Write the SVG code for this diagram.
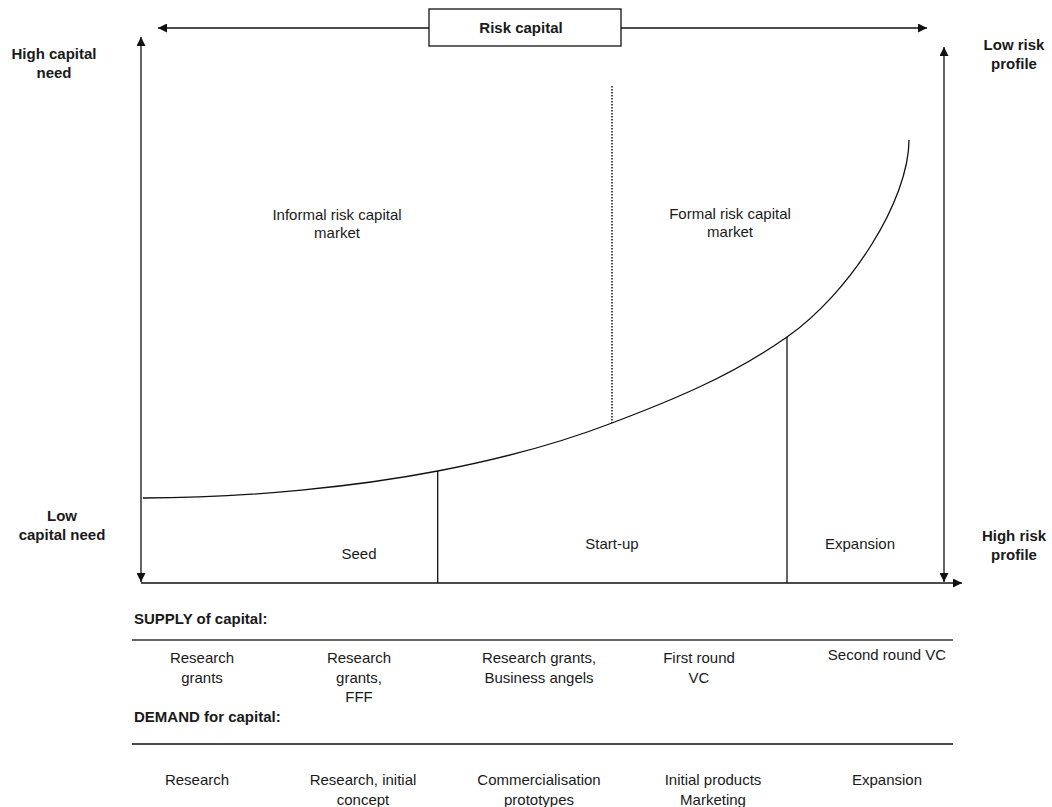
<svg xmlns="http://www.w3.org/2000/svg" width="1052" height="807" viewBox="0 0 1052 807">
<style>
text{font-family:"Liberation Sans",Arial,sans-serif;font-size:15px;fill:#1a1a1a;text-anchor:middle}
.b{font-weight:bold}
.l{text-anchor:start}
.ax{stroke:#111;stroke-width:1.3;fill:none}
</style>
<defs>
<marker id="ah" viewBox="0 0 10 10" refX="10" refY="5" markerWidth="9" markerHeight="9" markerUnits="userSpaceOnUse" orient="auto-start-reverse">
<path d="M0,0 L10,5 L0,10 z" fill="#111"/>
</marker>
</defs>
<rect width="1052" height="807" fill="#fff"/>
<g id="connectors">
<line class="ax" x1="429" y1="28" x2="158" y2="28" marker-end="url(#ah)"/>
<line class="ax" x1="621" y1="28" x2="927" y2="28" marker-end="url(#ah)"/>
<line class="ax" x1="141" y1="37" x2="141" y2="582" marker-start="url(#ah)" marker-end="url(#ah)"/>
<line class="ax" x1="944" y1="47" x2="944" y2="582" marker-start="url(#ah)" marker-end="url(#ah)"/>
<line class="ax" x1="141" y1="583" x2="962" y2="583" marker-end="url(#ah)"/>
<path class="ax" d="M143,498 C250,498 360,486 437.7,471 C495,460 555,445 612,423 C670,401 730,377 787,337 C850,293 909,200 909,140"/>
<line class="ax" x1="437.7" y1="471" x2="437.7" y2="583"/>
<line class="ax" x1="787" y1="337" x2="787" y2="583"/>
<line x1="612" y1="86" x2="612" y2="423" stroke="#111" stroke-width="1.5" stroke-dasharray="1.5,1.5"/>
<line x1="132" y1="640" x2="953" y2="640" stroke="#666" stroke-width="2"/>
<line x1="132" y1="744" x2="953" y2="744" stroke="#111" stroke-width="1.5"/>
</g>
<g id="risk-capital">
<rect x="429" y="9" width="192" height="37" fill="#fff" stroke="#111" stroke-width="1.3"/>
<text class="b" x="521" y="33">Risk capital</text>
</g>
<g id="high-capital-need"><text class="b" x="54" y="59">High capital<tspan x="54" dy="19">need</tspan></text></g>
<g id="low-capital-need"><text class="b" x="62" y="521">Low<tspan x="62" dy="19">capital need</tspan></text></g>
<g id="low-risk-profile"><text class="b" x="1014" y="50">Low risk<tspan x="1014" dy="19">profile</tspan></text></g>
<g id="high-risk-profile"><text class="b" x="1014" y="541">High risk<tspan x="1014" dy="19">profile</tspan></text></g>
<g id="informal"><text x="337" y="220">Informal risk capital<tspan x="337" dy="18">market</tspan></text></g>
<g id="formal"><text x="730" y="219">Formal risk capital<tspan x="730" dy="18">market</tspan></text></g>
<g id="seed"><text x="359" y="559">Seed</text></g>
<g id="startup"><text x="612" y="549">Start-up</text></g>
<g id="expansion"><text x="860" y="549">Expansion</text></g>
<g id="supply">
<text class="b l" x="134" y="624">SUPPLY of capital:</text>
<text x="202" y="663">Research<tspan x="202" dy="19.5">grants</tspan></text>
<text x="359" y="663">Research<tspan x="359" dy="19.5">grants,</tspan><tspan x="359" dy="19.5">FFF</tspan></text>
<text x="539" y="663">Research grants,<tspan x="539" dy="19.5">Business angels</tspan></text>
<text x="699" y="663">First round<tspan x="699" dy="19.5">VC</tspan></text>
<text x="887" y="660">Second round VC</text>
</g>
<g id="demand">
<text class="b l" x="134" y="722">DEMAND for capital:</text>
<text x="197" y="785">Research</text>
<text x="363" y="785">Research, initial<tspan x="363" dy="19.5">concept</tspan></text>
<text x="539" y="785">Commercialisation<tspan x="539" dy="19.5">prototypes</tspan></text>
<text x="713" y="785">Initial products<tspan x="713" dy="19.5">Marketing</tspan></text>
<text x="887" y="785">Expansion</text>
</g>
</svg>
